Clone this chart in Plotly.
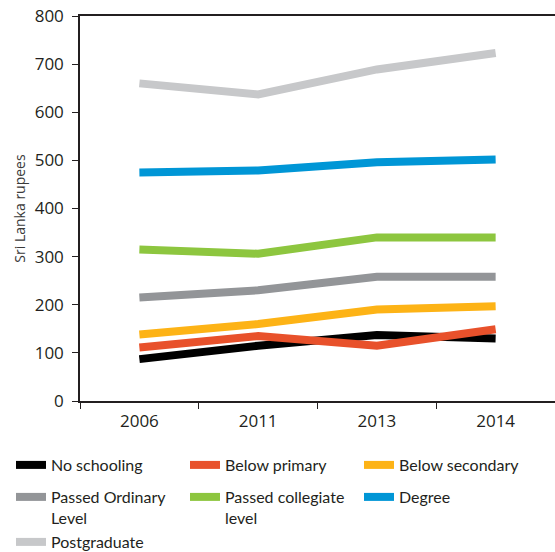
import plotly.graph_objects as go

years = ["2006", "2011", "2013", "2014"]

no_schooling = [87, 115, 137, 130]
below_primary = [111, 135, 115, 149]
below_secondary = [138, 160, 190, 197]
passed_ordinary = [215, 230, 258, 258]
passed_collegiate = [315, 306, 340, 340]
degree = [475, 479, 496, 502]
postgraduate = [660, 637, 689, 723]

series_names = [
    "No schooling",
    "Below primary",
    "Below secondary",
    "Passed Ordinary<br>Level",
    "Passed collegiate<br>level",
    "Degree",
    "Postgraduate",
]
series_values = [no_schooling, below_primary, below_secondary, passed_ordinary,
                 passed_collegiate, degree, postgraduate]
colors = ["#000000", "#E8512B", "#FDB316", "#939598", "#8DC63F", "#0096D6", "#C7C8CA"]
# legend rows: three entries per row, like the source
legend_rows = ["legend", "legend", "legend", "legend2", "legend2", "legend2", "legend3"]

fig = go.Figure()
for name, vals, col, lg in zip(series_names, series_values, colors, legend_rows):
    fig.add_trace(go.Scatter(x=years, y=vals, mode="lines", name=name, legend=lg,
                             line=dict(color=col, width=8)))


def row_legend(y):
    return dict(
        orientation="h", x=-0.1453, xanchor="left", y=y, yanchor="top",
        entrywidth=129, entrywidthmode="pixels",
        font=dict(family="Lato, sans-serif", size=16, color="#231F20"),
        itemwidth=30, valign="top", traceorder="normal",
    )


fig.update_layout(
    width=555, height=552,
    margin=dict(l=80, r=0, t=16, b=151, autoexpand=False),
    plot_bgcolor="white", paper_bgcolor="white",
    font=dict(family="Open Sans, sans-serif", color="#231F20"),
    showlegend=True,
    legend=row_legend(-0.1221),
    legend2=row_legend(-0.2052),
    legend3=row_legend(-0.3221),
)
fig.update_xaxes(
    type="category", range=[-0.5, 3.5], showline=True, linecolor="#231F20", linewidth=1.5,
    mirror=True, ticks="outside", tickson="boundaries", ticklen=6,
    tickcolor="#231F20", showgrid=False, tickfont=dict(size=17), ticklabelstandoff=4,
)
fig.update_yaxes(
    range=[0, 800], dtick=100, showline=True, linecolor="#231F20", linewidth=1.5,
    ticks="outside", ticklen=6, tickcolor="#231F20", showgrid=False,
    zeroline=False, tickfont=dict(size=17), ticklabelstandoff=5,
    title=dict(text="Sri Lanka rupees", font=dict(size=14, color="#3a3a3a"), standoff=6),
)

fig.write_html("out.html", config={"displayModeBar": False},
               post_script="document.body.style.margin='0';")
